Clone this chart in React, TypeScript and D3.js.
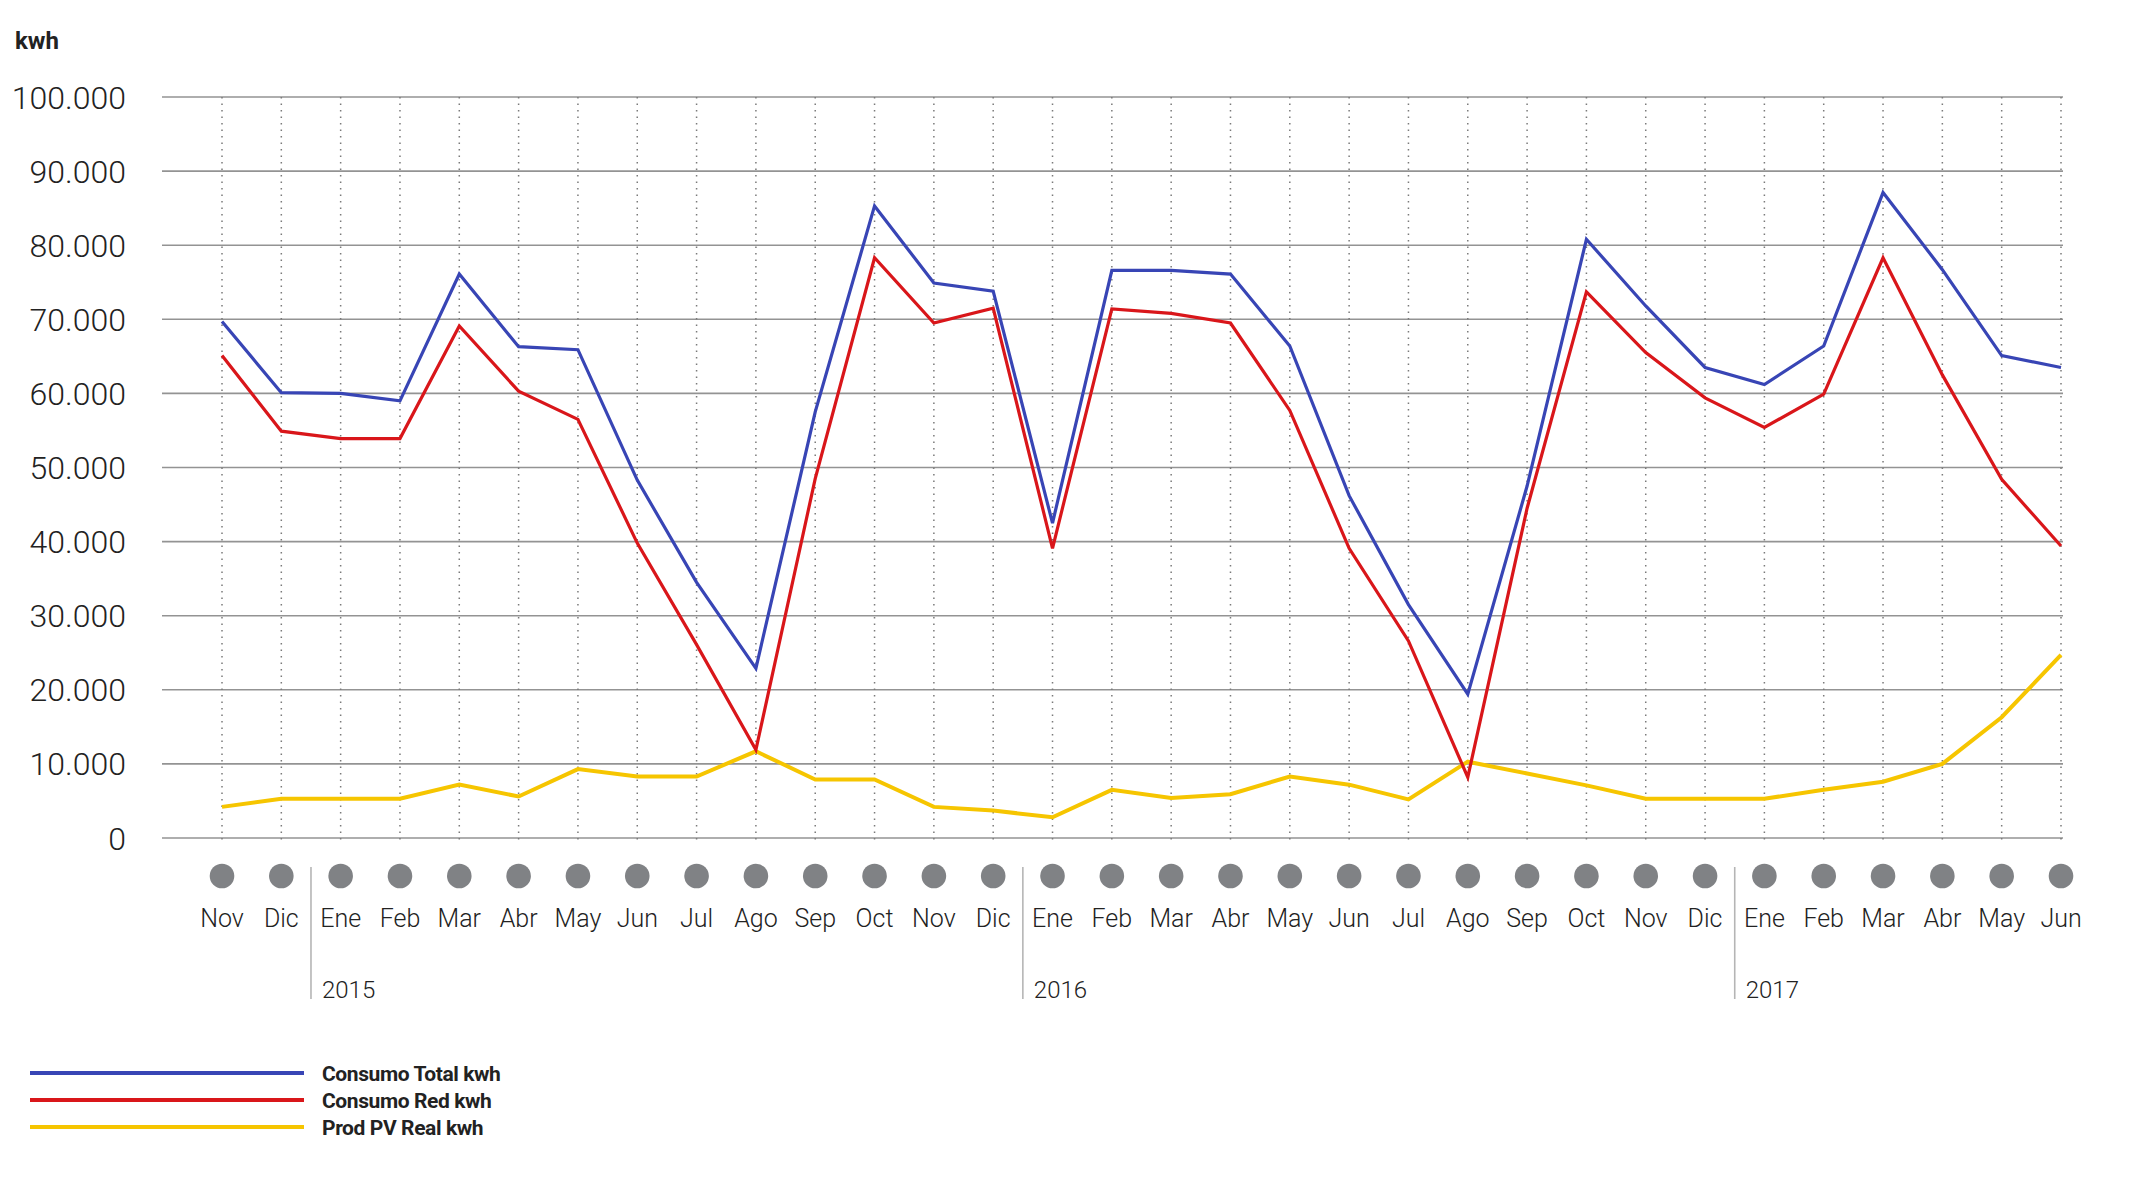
import React from "react";
import * as d3 from "d3";

const months = ["Nov","Dic","Ene","Feb","Mar","Abr","May","Jun","Jul","Ago","Sep","Oct","Nov","Dic","Ene","Feb","Mar","Abr","May","Jun","Jul","Ago","Sep","Oct","Nov","Dic","Ene","Feb","Mar","Abr","May","Jun"];
const consumoTotal = [69700,60100,60000,59000,76100,66300,65900,48300,34500,22900,57500,85300,74900,73800,42500,76600,76600,76100,66400,46200,31500,19400,47500,80800,71800,63500,61200,66400,87100,76700,65100,63500];
const consumoRed = [65100,54900,53900,53900,69100,60300,56500,39800,26100,11900,48500,78300,69500,71500,39100,71400,70800,69500,57700,39100,26600,8200,44500,73700,65500,59400,55400,59900,78300,62500,48400,39400];
const prodPV = [4200,5300,5300,5300,7200,5600,9300,8300,8300,11700,7900,7900,4200,3700,2800,6500,5400,5900,8300,7200,5200,10300,8700,7100,5300,5300,5300,6500,7600,10000,16300,24700];
const years = ["2015","2016","2017"];
const yearStartIndex = [2,14,26];
const yTicks = [0,10000,20000,30000,40000,50000,60000,70000,80000,90000,100000];
const seriesNames = ["Consumo Total kwh","Consumo Red kwh","Prod PV Real kwh"];
const seriesColors = ["#3845b5","#d9161a","#f6c500"];

const W = 2149, H = 1181;
const fmt = (v: number) => (v === 0 ? "0" : d3.format(",")(v).replace(/,/g, "."));

export default function App() {
  const idx = months.map((_, i) => i);
  const x = d3.scalePoint<number>().domain(idx).range([222, 2061]);
  const y = d3.scaleLinear().domain([0, 100000]).range([838, 97]);
  const line = d3.line<number>().x((_, i) => x(i)!).y((d) => y(d));
  const step = x.step();
  const series = [consumoTotal, consumoRed, prodPV];
  const drawOrder = [2, 0, 1];
  const widths = [3.2, 3.2, 4];
  return (
    <div style={{ position: "absolute", left: 0, top: 0 }}>
      <svg width={W} height={H} style={{ display: "block", fontFamily: "Roboto, sans-serif" }}>
        <rect x={0} y={0} width={W} height={H} fill="#fff" />
        <text x={15} y={49} fontSize={24} fontWeight={700} fill="#222">kwh</text>
        {yTicks.map((t) => (
          <g key={t}>
            <line x1={162} x2={2063} y1={y(t)} y2={y(t)} stroke="#939393" strokeWidth={1.6} />
            <text x={126} y={y(t)} dy="0.36em" textAnchor="end" fontSize={32} fontWeight={300} fill="#222">{fmt(t)}</text>
          </g>
        ))}
        {idx.map((i) => (
          <line key={"v" + i} x1={x(i)} x2={x(i)} y1={y(100000)} y2={843} stroke="#7a7a7a" strokeWidth={1.5} strokeDasharray="1.5,5" />
        ))}
        {drawOrder.map((s) => (
          <path key={"s" + s} d={line(series[s]) || ""} fill="none" stroke={seriesColors[s]} strokeWidth={widths[s]} strokeLinejoin="miter" />
        ))}
        {idx.map((i) => (
          <g key={"m" + i}>
            <circle cx={x(i)} cy={876} r={12.3} fill="#808285" />
            <text x={x(i)} y={927} textAnchor="middle" fontSize={25} fontWeight={300} fill="#222">{months[i]}</text>
          </g>
        ))}
        {years.map((yr, k) => {
          const sx = x(yearStartIndex[k])! - step / 2;
          return (
            <g key={yr}>
              <line x1={sx} x2={sx} y1={867} y2={999} stroke="#b5b5b5" strokeWidth={1.6} />
              <text x={sx + 11} y={998} fontSize={24} fontWeight={300} fill="#222">{yr}</text>
            </g>
          );
        })}
        {seriesNames.map((n, k) => (
          <g key={n}>
            <line x1={30} x2={304} y1={1073 + k * 27} y2={1073 + k * 27} stroke={seriesColors[k]} strokeWidth={4} />
            <text x={322} y={1081 + k * 27} fontSize={21} fontWeight={700} fill="#222" letterSpacing={-0.4}>{n}</text>
          </g>
        ))}
      </svg>
    </div>
  );
}
